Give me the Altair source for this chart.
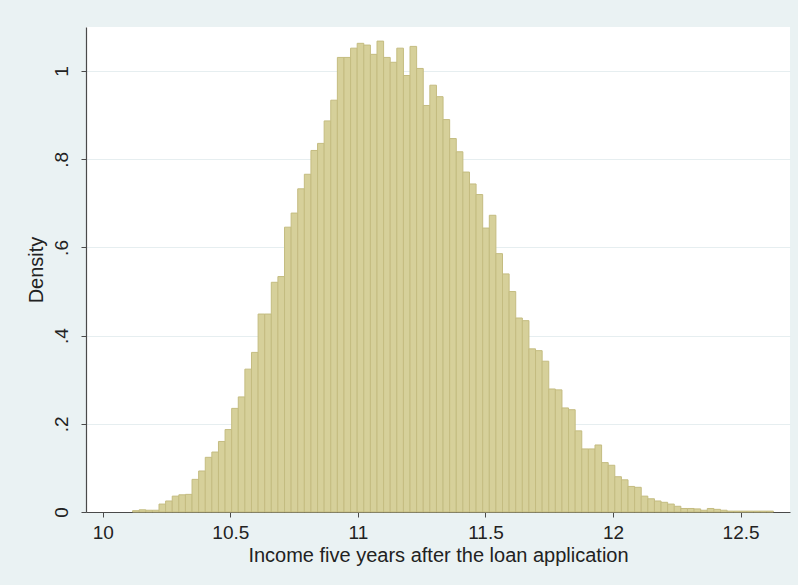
import altair as alt
import pandas as pd

# Histogram of income five years after the loan application (density scale)
bin_start = 10.117
bin_width = 0.02589
density = [
    0.003, 0.005, 0.004, 0.004, 0.018, 0.025, 0.036, 0.039, 0.040, 0.074,
    0.093, 0.124, 0.136, 0.160, 0.187, 0.235, 0.261, 0.324, 0.362, 0.449,
    0.449, 0.521, 0.534, 0.646, 0.678, 0.733, 0.766, 0.820, 0.836, 0.887,
    0.934, 1.031, 1.031, 1.052, 1.063, 1.059, 1.038, 1.068, 1.031, 1.020,
    1.052, 0.990, 1.056, 1.006, 0.922, 0.968, 0.942, 0.890, 0.847, 0.817,
    0.771, 0.744, 0.720, 0.644, 0.673, 0.586, 0.540, 0.500, 0.440, 0.434,
    0.370, 0.366, 0.342, 0.279, 0.277, 0.236, 0.232, 0.184, 0.143, 0.143,
    0.152, 0.112, 0.106, 0.080, 0.073, 0.058, 0.056, 0.036, 0.030, 0.025,
    0.022, 0.018, 0.013, 0.008, 0.008, 0.007, 0.004, 0.008, 0.006, 0.004,
    0.002, 0.002, 0.002, 0.002, 0.002, 0.002, 0.002,
]
x_ticks = [10, 10.5, 11, 11.5, 12, 12.5]
y_ticks = [0, 0.2, 0.4, 0.6, 0.8, 1]
y_tick_labels = ["0", ".2", ".4", ".6", ".8", "1"]

df = pd.DataFrame({
    "lo": [bin_start + i * bin_width for i in range(len(density))],
    "hi": [bin_start + (i + 1) * bin_width for i in range(len(density))],
    "density": density,
})

label_expr = " : ".join(
    f"abs(datum.value - {v}) < 0.001 ? '{t}'" for v, t in zip(y_ticks, y_tick_labels)
) + " : ''"

FONT = "Liberation Sans"

chart = (
    alt.Chart(df)
    .mark_bar(fill="#D6D09A", stroke="#C4BC80", strokeWidth=1, orient="vertical")
    .encode(
        x=alt.X(
            "lo:Q",
            scale=alt.Scale(domain=[9.954, 12.674], nice=False, zero=False),
            axis=alt.Axis(
                values=x_ticks,
                format="~g",
                title="Income five years after the loan application",
                grid=False,
                labelFontSize=19,
                titleFontSize=20,
                labelPadding=6,
                titlePadding=3,
            ),
        ),
        x2="hi:Q",
        y=alt.Y(
            "density:Q",
            scale=alt.Scale(domain=[0, 1.1], nice=False),
            axis=alt.Axis(
                values=y_ticks,
                title="Density",
                labelExpr=label_expr,
                labelAngle=270,
                labelAlign="center",
                labelBaseline="bottom",
                labelFontSize=19,
                titleFontSize=20,
                labelPadding=10,
                titlePadding=6,
                grid=True,
                gridColor="#E6EEF0",
                gridWidth=1,
            ),
        ),
        y2=alt.datum(0),
    )
    .properties(
        width=704,
        height=485,
        background="#EAF2F3",
        padding={"left": 86, "top": 27, "right": 8, "bottom": 73},
        autosize=alt.AutoSizeParams(type="none"),
    )
    .configure_view(fill="white", stroke=None)
    .configure_axis(
        domainColor="#4a4a4a",
        tickColor="#4a4a4a",
        tickSize=5,
        labelColor="#222222",
        titleColor="#222222",
        labelFont=FONT,
        titleFont=FONT,
        titleFontWeight="normal",
        domainWidth=1.2,
    )
)

chart.save("out.html", embed_options={"renderer": "svg", "actions": False})
